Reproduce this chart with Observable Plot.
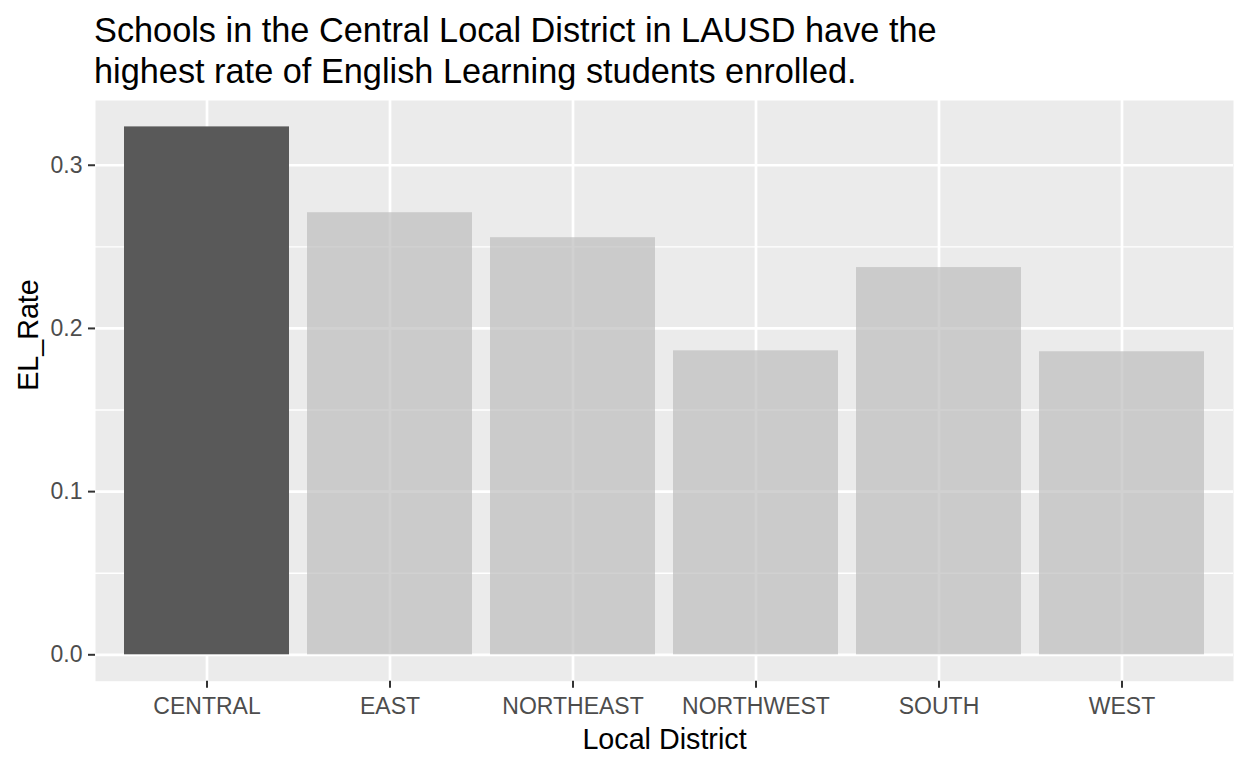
<!DOCTYPE html>
<html>
<head>
<meta charset="utf-8">
<script src="https://cdn.jsdelivr.net/npm/d3@7"></script>
<script src="https://cdn.jsdelivr.net/npm/@observablehq/plot@0.6"></script>
<style>
  html, body { margin: 0; padding: 0; background: #ffffff; }
  body { width: 1248px; height: 768px; overflow: hidden; font-family: "Liberation Sans", Arial, sans-serif; }
  #title { box-sizing: border-box; height: 100px; padding-top: 10px; padding-left: 94px;
           font-size: 34.3px; line-height: 40.5px; color: #000; }
  #chart svg { display: block; }
  #chart g[aria-label="y-axis tick"] path, #chart g[aria-label="x-axis tick"] path { stroke: #333333; }
  #chart g[aria-label="y-axis tick label"] text, #chart g[aria-label="x-axis tick label"] text { fill: #4D4D4D; }
</style>
</head>
<body>
<div id="title">Schools in the Central Local District in LAUSD have the<br>highest rate of English Learning students enrolled.</div>
<div id="chart"></div>
<script>
const titleText = "Schools in the Central Local District in LAUSD have the highest rate of English Learning students enrolled.";
const districts = ["CENTRAL", "EAST", "NORTHEAST", "NORTHWEST", "SOUTH", "WEST"];
const elRate = [0.3235, 0.2709, 0.2556, 0.1863, 0.2373, 0.1857];
const highlight = "CENTRAL";
const yTicks = [0, 0.1, 0.2, 0.3];
const yMinor = [0.05, 0.15, 0.25];
const xLabel = "Local District";
const yLabel = "EL_Rate";

const data = districts.map((d, i) => ({district: d, rate: elRate[i]}));
const ymax = d3.max(elRate);
const pad = 0.05 * ymax;

const chart = Plot.plot({
  width: 1248,
  height: 668,
  marginTop: 0,
  marginLeft: 95,
  marginRight: 15,
  marginBottom: 87.3,
  style: {fontFamily: "'Liberation Sans', Arial, sans-serif", background: "#ffffff"},
  x: {type: "band", domain: districts, paddingInner: 0.1, paddingOuter: 0.15, label: null},
  y: {domain: [-pad, ymax + pad], label: null},
  marks: [
    Plot.frame({fill: "#EBEBEB", stroke: null}),
    Plot.ruleY(yMinor, {stroke: "#ffffff", strokeWidth: 1.35}),
    Plot.ruleY(yTicks, {stroke: "#ffffff", strokeWidth: 2.7}),
    Plot.ruleX(districts, {stroke: "#ffffff", strokeWidth: 2.7}),
    Plot.barY(data.filter(d => d.district !== highlight), {x: "district", y: "rate", fill: "#BEBEBE", fillOpacity: 0.7}),
    Plot.barY(data.filter(d => d.district === highlight), {x: "district", y: "rate", fill: "#595959"}),
    Plot.axisY({ticks: yTicks, tickFormat: d3.format(".1f"), tickSize: 7, tickPadding: 6, fontSize: 23, strokeWidth: 2, label: null}),
    Plot.axisX({tickSize: 7, tickPadding: 9, fontSize: 23, strokeWidth: 2, label: null}),
    Plot.text([xLabel], {text: d => d, frameAnchor: "bottom", lineAnchor: "bottom", dy: 67.3, fontSize: 28.7, fill: "#000"}),
    Plot.text([yLabel], {text: d => d, frameAnchor: "left", lineAnchor: "bottom", rotate: -90, dx: -58, fontSize: 28.7, fill: "#000"})
  ]
});
document.getElementById("chart").appendChild(chart);
</script>
</body>
</html>
